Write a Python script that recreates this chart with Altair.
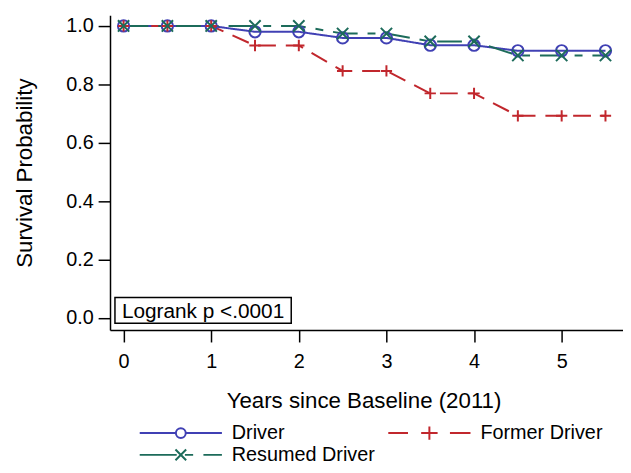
import altair as alt
import pandas as pd

# ---- data ----
years = [0, 0.5, 1, 1.5, 2, 2.5, 3, 3.5, 4, 4.5, 5, 5.5]
driver = [1, 1, 1, 0.98, 0.98, 0.959, 0.959, 0.934, 0.934, 0.915, 0.915, 0.915]
former = [1, 1, 1, 0.933, 0.933, 0.846, 0.846, 0.769, 0.769, 0.692, 0.692, 0.692]
resumed = [1, 1, 1, 1, 1, 0.974, 0.974, 0.947, 0.947, 0.899, 0.899, 0.899]
groups = ["Driver", "Former Driver", "Resumed Driver"]
colors = ["#4040b4", "#c1272d", "#1c6b5a"]
x_ticks = [0, 1, 2, 3, 4, 5]
y_ticks = [0.0, 0.2, 0.4, 0.6, 0.8, 1.0]
annotation = "Logrank p <.0001"

rows = []
for g, vals in zip(groups, [driver, former, resumed]):
    for t, v in zip(years, vals):
        rows.append({"t": t, "s": v, "group": g})
df = pd.DataFrame(rows)

FONT = "Liberation Sans"

plot_shapes = ["circle", "M-1,0H1M0,-1V1", "M-1,-1L1,1M1,-1L-1,1"]
legend_shapes = [
    "M-1,0H-0.12 M-0.12,0 A0.12,0.12 0 1,1 0.12,0 A0.12,0.12 0 1,1 -0.12,0 M0.12,0H1",
    "M-1,0H-0.52 M-0.2,0H0.2 M0,-0.16V0.16 M0.5,0H1",
    "M-1,0H-0.1 M-0.13,-0.13L0.13,0.13 M0.13,-0.13L-0.13,0.13 M0.1,0H0.3 M0.55,0H1",
]

xs = alt.Scale(domain=[-0.155, 5.70], nice=False, zero=False)
ys = alt.Scale(domain=[-0.042, 1.037], nice=False, zero=False)
cs = alt.Scale(domain=groups, range=colors)

x_enc = alt.X("t:Q", scale=xs, axis=alt.Axis(values=x_ticks, title="Years since Baseline (2011)",
                                           titleX=256, titleY=71, titleBaseline="middle"))
y_enc = alt.Y("s:Q", scale=ys, axis=alt.Axis(values=y_ticks, format=".1f", title="Survival Probability",
                                           titleX=-86, titleY=159, titleBaseline="middle"))

lines = alt.Chart(df).mark_line(strokeWidth=2).encode(
    x=x_enc, y=y_enc,
    color=alt.Color("group:N", scale=cs, legend=None),
    strokeDash=alt.StrokeDash("group:N", scale=alt.Scale(domain=groups, range=[[1, 0], [18, 10], [25, 10, 8, 10]]), legend=None),
)

points = alt.Chart(df).mark_point(filled=False, strokeWidth=2, opacity=1, size=130).encode(
    x=x_enc, y=y_enc,
    color=alt.Color("group:N", scale=cs, legend=None),
    shape=alt.Shape("group:N", scale=alt.Scale(domain=groups, range=plot_shapes), legend=None),
)

leg = alt.Legend(orient="none", direction="horizontal", legendX=29, legendY=411, columns=2, clipHeight=22,
                 symbolSize=6889, symbolStrokeWidth=2, labelFont=FONT, labelFontSize=20,
                 labelColor="black", labelOffset=9, columnPadding=12, rowPadding=0, title=None)
legend_layer = alt.Chart(df).transform_filter("datum.t < -100").mark_point(
    filled=False, strokeWidth=2, opacity=1, size=6889).encode(
    x=x_enc, y=y_enc,
    color=alt.Color("group:N", scale=cs, legend=leg),
    shape=alt.Shape("group:N", scale=alt.Scale(domain=groups, range=legend_shapes), legend=leg),
)

box = alt.Chart(pd.DataFrame({"label": [annotation]})).mark_rect(
    fill="white", stroke="black", strokeWidth=1.5).encode(
    x=alt.value(5), x2=alt.value(183), y=alt.value(285), y2=alt.value(311))
txt = alt.Chart(pd.DataFrame({"label": [annotation]})).mark_text(
    align="left", baseline="alphabetic", font=FONT, fontSize=21, color="black").encode(
    x=alt.value(12), y=alt.value(306), text="label:N")

chart = alt.layer(lines, points, legend_layer, box, txt).resolve_scale(
    color="independent", shape="independent", strokeDash="independent"
).properties(
    width=518, height=318,
    autosize=alt.AutoSizeParams(type="none"),
    padding={"left": 103, "top": 5, "right": 0, "bottom": 134},
).configure_view(stroke=None).configure_axis(
    grid=False, domainColor="black", domainWidth=1.5, tickColor="black", tickWidth=1.5,
    tickSize=12, labelFont=FONT, labelFontSize=20, labelColor="black",
    titleFont=FONT, titleFontSize=22.5, titleColor="black", titleFontWeight="normal",
).configure_axisX(labelPadding=10).configure_axisY(labelPadding=5)

chart.save("out.html", embed_options={"renderer": "svg", "actions": False})
